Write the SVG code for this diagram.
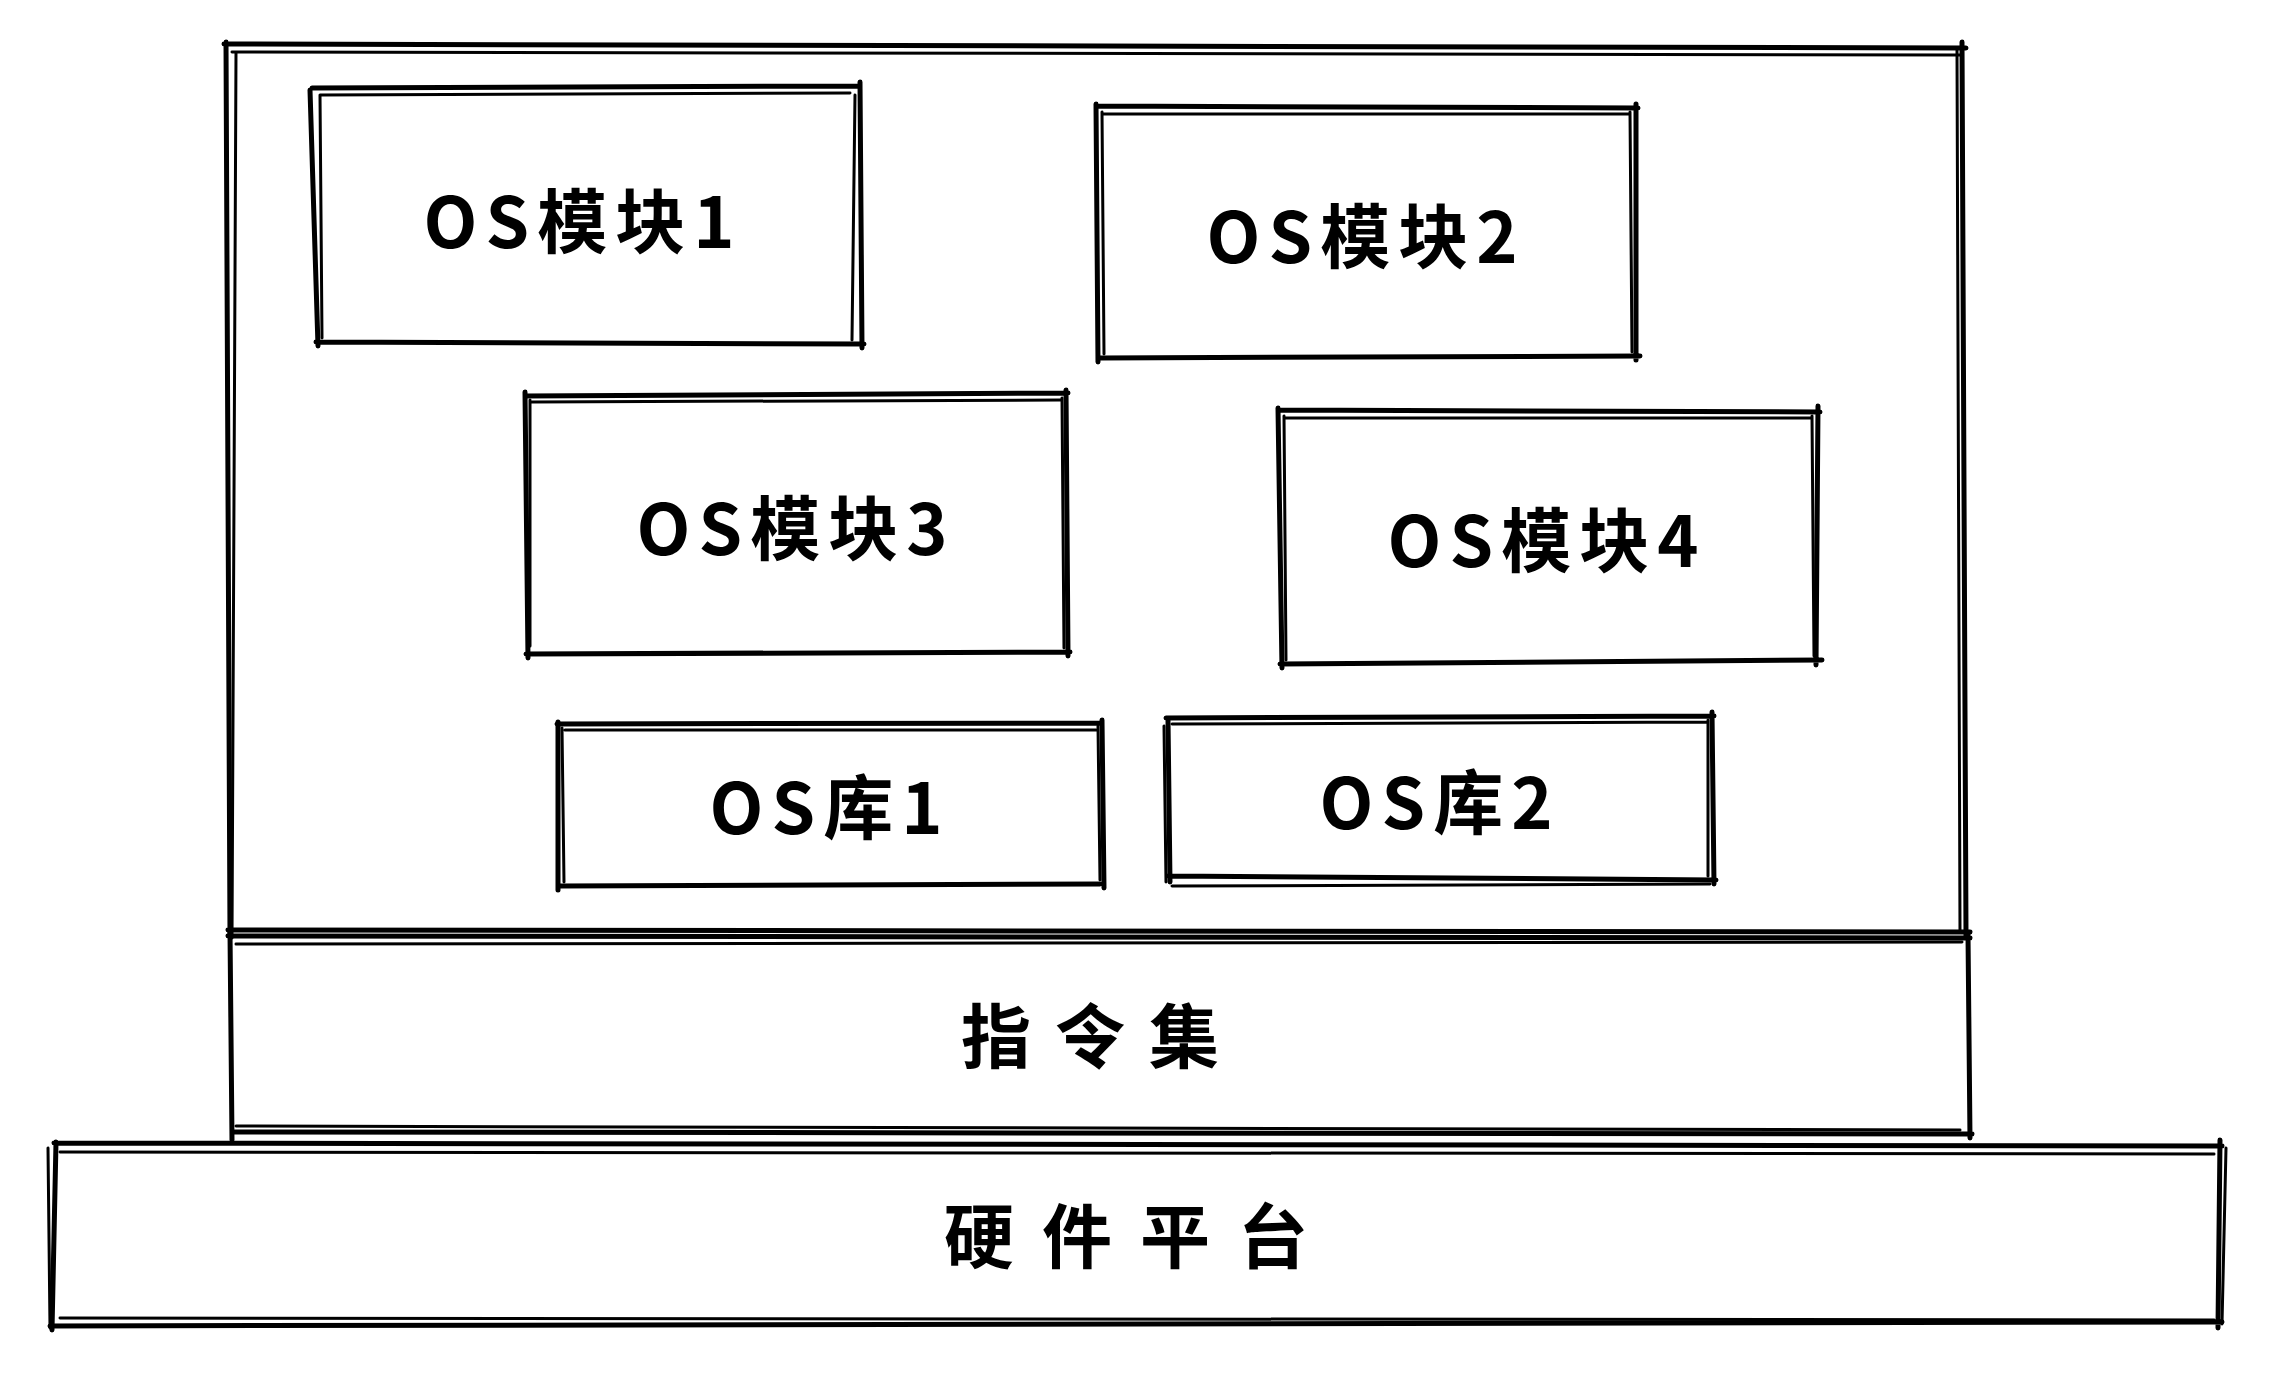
<svg xmlns="http://www.w3.org/2000/svg" width="2270" height="1377" viewBox="0 0 2270 1377">
<style>
.s{fill:none;stroke:#000;stroke-width:5;stroke-linecap:round;stroke-linejoin:round}
.t{stroke-width:3}
.l{font-family:"Noto Sans CJK SC","Noto Sans",sans-serif;font-size:70px;font-weight:700;fill:#000;text-anchor:middle;dominant-baseline:central;letter-spacing:8px}
</style>
<rect width="2270" height="1377" fill="#fff"/>
<g id="os">
<path class="s" d="M224 44 L1966 48 M1962 42 L1966 936 M1970 932 L228 930 M230 936 L226 42"/>
<path class="s t" d="M232 52 L1960 55 M1957 50 L1960 930 M232 938 L236 52"/>
</g>
<g id="isa">
<path class="s" d="M228 936 L1970 938 M1968 934 L1970 1138 M1972 1134 L232 1132 M232 1140 L230 932"/>
<path class="s t" d="M236 944 L1962 942 M236 1126 L1960 1130"/>
<text class="l" x="1102" y="1032" style="letter-spacing:24px">指令集</text>
</g>
<g id="hw">
<path class="s" d="M54 1143 L2222 1146 M2220 1140 L2218 1328 M2222 1322 L50 1326 M52 1330 L56 1142"/>
<path class="s t" d="M60 1152 L2214 1154 M2226 1148 L2222 1324 M60 1318 L2214 1320 M48 1148 L50 1328"/>
<text class="l" x="1140" y="1232" style="letter-spacing:28px">硬件平台</text>
</g>
<g id="m1">
<path class="s" d="M312 88 L858 86 M860 82 L862 348 M864 344 L316 342 M318 346 L310 90"/>
<path class="s t" d="M320 95 L850 93 M855 95 L852 340 M322 338 L320 95"/>
<text class="l" x="583" y="217">OS模块1</text>
</g>
<g id="m2">
<path class="s" d="M1096 106 L1638 108 M1636 104 L1636 360 M1640 356 L1100 358 M1098 362 L1096 104"/>
<path class="s t" d="M1102 114 L1630 114 M1630 112 L1632 352 M1104 354 L1102 112"/>
<text class="l" x="1366" y="232">OS模块2</text>
</g>
<g id="m3">
<path class="s" d="M525 396 L1068 393 M1066 390 L1068 656 M1070 652 L526 654 M528 658 L525 392"/>
<path class="s t" d="M532 402 L1060 400 M1062 398 L1064 648 M530 646 L530 400"/>
<text class="l" x="796" y="524">OS模块3</text>
</g>
<g id="m4">
<path class="s" d="M1278 410 L1820 412 M1818 406 L1816 665 M1822 660 L1280 664 M1282 668 L1278 408"/>
<path class="s t" d="M1285 418 L1812 418 M1812 416 L1814 656 M1286 660 L1284 416"/>
<text class="l" x="1547" y="536">OS模块4</text>
</g>
<g id="l1">
<path class="s" d="M557 724 L1102 723 M1102 720 L1104 888 M1100 884 L560 886 M558 890 L558 722"/>
<path class="s t" d="M565 730 L1096 730 M1098 726 L1100 880 M564 882 L562 728"/>
<text class="l" x="830" y="803">OS库1</text>
</g>
<g id="l2">
<path class="s" d="M1166 718 L1714 716 M1712 712 L1714 884 M1716 880 L1168 876 M1170 882 L1168 720"/>
<path class="s t" d="M1172 724 L1708 722 M1708 720 L1708 876 M1172 886 L1710 884 M1164 726 L1166 882"/>
<text class="l" x="1440" y="798">OS库2</text>
</g>
<g id="connectors"></g>
</svg>
